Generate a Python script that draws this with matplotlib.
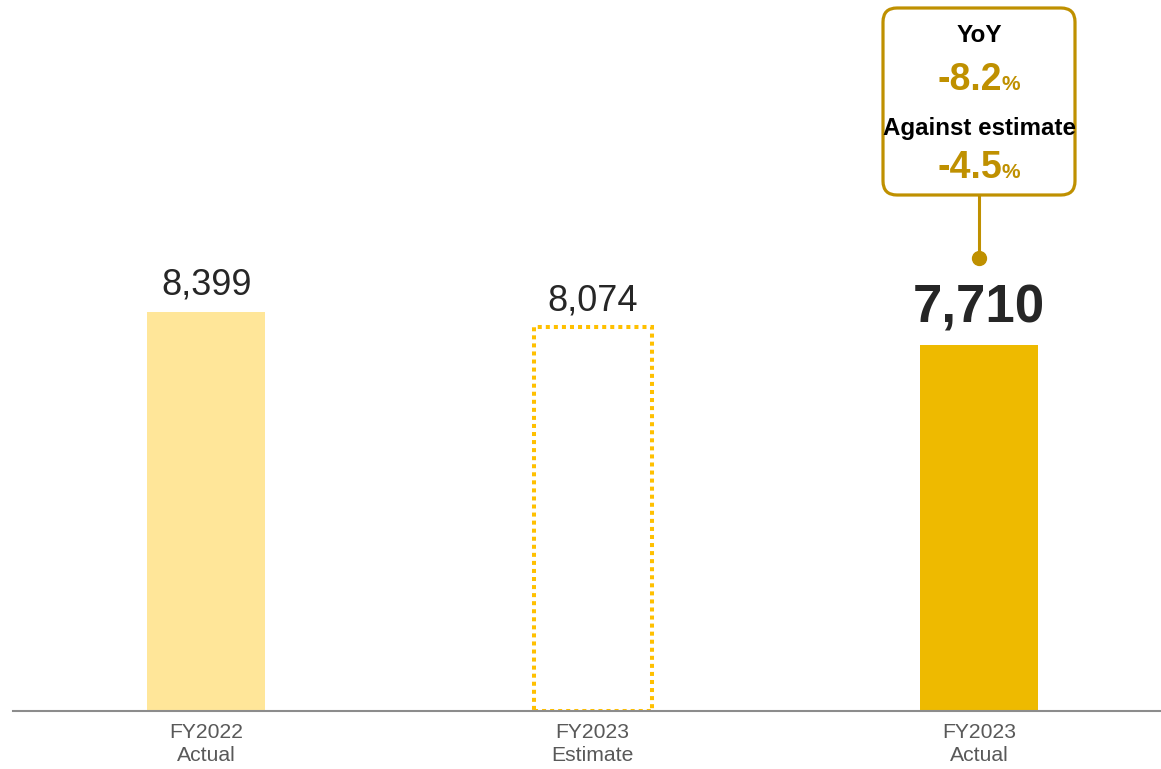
import numpy as np
import matplotlib.pyplot as plt
from matplotlib.patches import FancyBboxPatch, Rectangle
from matplotlib.transforms import IdentityTransform, offset_copy

plt.rcParams['font.family'] = ['Liberation Sans', 'DejaVu Sans']

cats = ["FY2022\nActual", "FY2023\nEstimate", "FY2023\nActual"]
vals = [8399, 8074, 7710]
yoy = "-8.2"
vs_est = "-4.5"

gold = '#BF9000'
fig = plt.figure(figsize=(11.61, 7.69), dpi=100)
ax = fig.add_axes([13/1161, 58/769, 1148/1161, 711/769])
x = np.arange(len(vals))
w = 0.305

ax.bar(x[0], vals[0], w, color='#FFE699')
ax.bar(x[2], vals[2], w, color='#EEBA00')
# estimate bar: dotted outline only
ax.add_patch(Rectangle((x[1]-w/2, 0), w, vals[1], fill=False, edgecolor='#FFC000',
                       lw=2.9, linestyle=(0, (1, 1)), capstyle='butt'))

ax.set_xlim(-0.5, 2.471)
ax.set_ylim(0, 14967)
for s in ['top', 'right', 'left']:
    ax.spines[s].set_visible(False)
ax.spines['bottom'].set_color('#8C8C8C')
ax.spines['bottom'].set_linewidth(1.5)
ax.set_yticks([])
ax.set_xticks(x)
ax.set_xticklabels(cats, fontsize=15.2, color='#595959', linespacing=1.22)
ax.tick_params(axis='x', length=0, pad=9)

for i in range(2):
    ax.text(x[i], vals[i], f"{vals[i]:,}", ha='center', va='baseline', fontsize=26,
            color='#262626', transform=offset_copy(ax.transData, fig, y=12.5, units='points'))
ax.text(x[2], vals[2], f"{vals[2]:,}", ha='center', va='baseline', fontsize=38,
        fontweight='bold', color='#262626',
        transform=offset_copy(ax.transData, fig, y=16, units='points'))

# callout box
def py(p):
    # pixel from top -> data y
    return (711 - p) / 711 * 14967

cx = x[2]
ax.plot([cx, cx], [py(195), py(258)], color=gold, lw=2.2, solid_capstyle='butt')
ax.plot(cx, py(258), 'o', color=gold, ms=10)

xd = ax.transData.transform((cx, 0))[0]
box = FancyBboxPatch((xd - 96, 769 - 195), 192, 187, boxstyle='round,pad=0,rounding_size=14',
                     transform=IdentityTransform(), fill=True, facecolor='white',
                     edgecolor=gold, lw=2.3, zorder=3, clip_on=False)
ax.add_artist(box)

ax.text(cx, py(42), "YoY", ha='center', va='baseline', fontsize=17.5, fontweight='bold',
        color='black', zorder=4)
ax.text(cx, py(135), "Against estimate", ha='center', va='baseline', fontsize=17.4,
        fontweight='bold', color='black', zorder=4)
split = offset_copy(ax.transData, fig, x=16.5, units='points')
for val, ypx in [(yoy, 90), (vs_est, 178)]:
    ax.text(cx, py(ypx), val, ha='right', va='baseline', fontsize=27, fontweight='bold',
            color=gold, transform=split, zorder=4)
    ax.text(cx, py(ypx), "%", ha='left', va='baseline', fontsize=15, fontweight='bold',
            color=gold, transform=split, zorder=4)

fig.savefig("out.png", dpi=100)
